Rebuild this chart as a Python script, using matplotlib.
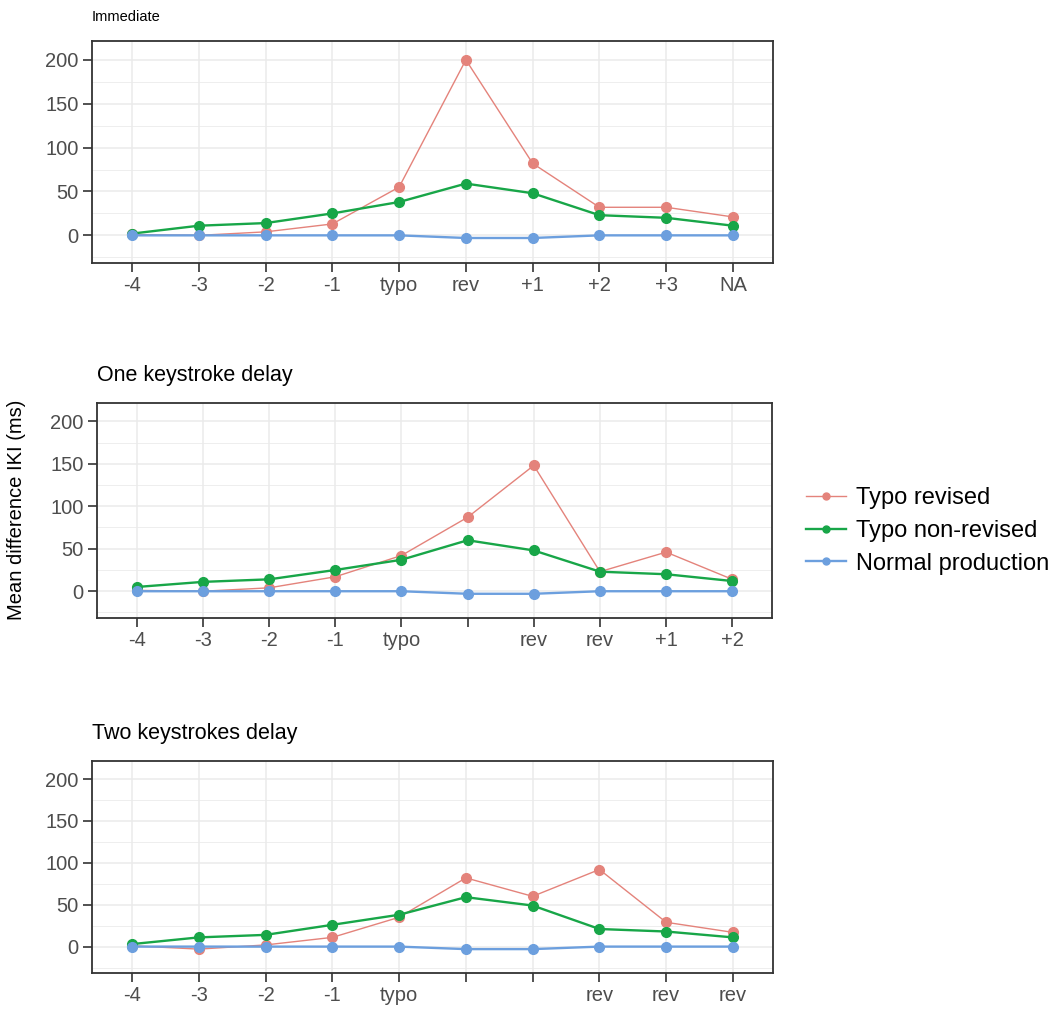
import matplotlib
matplotlib.use("Agg")
import matplotlib.pyplot as plt
from matplotlib.lines import Line2D

# category positions along the keystroke sequence
positions = list(range(1, 11))

# tick labels for each panel
labels_immediate = ["-4", "-3", "-2", "-1", "typo", "rev", "+1", "+2", "+3", "NA"]
labels_one = ["-4", "-3", "-2", "-1", "typo", "", "rev", "rev", "+1", "+2"]
labels_two = ["-4", "-3", "-2", "-1", "typo", "", "", "rev", "rev", "rev"]

# mean difference IKI (ms)
immediate_revised = [1, 0, 4, 13, 55, 200, 82, 32, 32, 21]
immediate_nonrevised = [2, 11, 14, 25, 38, 59, 48, 23, 20, 11]
immediate_normal = [0, 0, 0, 0, 0, -3, -3, 0, 0, 0]

one_revised = [1, 0, 4, 17, 42, 87, 148, 23, 46, 14]
one_nonrevised = [5, 11, 14, 25, 37, 60, 48, 23, 20, 12]
one_normal = [0, 0, 0, 0, 0, -3, -3, 0, 0, 0]

two_revised = [1, -3, 2, 11, 35, 82, 60, 92, 29, 17]
two_nonrevised = [3, 11, 14, 26, 38, 59, 49, 21, 18, 11]
two_normal = [0, 0, 0, 0, 0, -3, -3, 0, 0, 0]

series_names = ["Typo revised", "Typo non-revised", "Normal production"]

COLORS = {
    "revised": "#E4837B",
    "nonrevised": "#18A648",
    "normal": "#6C9FDE",
    "border": "#333333",
    "grid": "#EBEBEB",
    "tick_text": "#4D4D4D",
}

FONT = ["Liberation Sans", "DejaVu Sans"]

W, H = 1060, 1014
fig = plt.figure(figsize=(W / 100, H / 100), dpi=100)
fig.patch.set_facecolor("white")


def px_axes(left, top, right, bottom):
    return fig.add_axes([left / W, 1 - bottom / H, (right - left) / W, (bottom - top) / H])


def draw_panel(ax, title, labels, revised, nonrevised, normal, title_size=15.5, title_pad=16):
    ax.plot(positions, revised, color=COLORS["revised"], lw=1.0, marker="o", ms=7, zorder=3)
    ax.plot(positions, nonrevised, color=COLORS["nonrevised"], lw=1.7, marker="o", ms=7, zorder=4)
    ax.plot(positions, normal, color=COLORS["normal"], lw=1.7, marker="o", ms=7, zorder=5)

    ax.set_xlim(0.4, 10.6)
    ax.set_ylim(-31.5, 221.5)
    ax.set_xticks(positions)
    ax.set_xticklabels(labels, family=FONT, fontsize=14.5, color=COLORS["tick_text"])
    ax.set_yticks([0, 50, 100, 150, 200])
    ax.set_yticklabels(["0", "50", "100", "150", "200"], family=FONT, fontsize=14.5,
                       color=COLORS["tick_text"])
    ax.set_yticks([-25, 25, 75, 125, 175], minor=True)

    ax.grid(True, which="major", color=COLORS["grid"], lw=1.1, zorder=0)
    ax.grid(True, which="minor", axis="y", color=COLORS["grid"], lw=0.6, zorder=0)
    ax.set_axisbelow(True)
    ax.tick_params(which="major", length=6.5, width=1.2, color=COLORS["border"], pad=3)
    ax.tick_params(which="minor", length=0)
    for sp in ax.spines.values():
        sp.set_color(COLORS["border"])
        sp.set_linewidth(1.3)
    ax.set_title(title, loc="left", family=FONT, fontsize=title_size, color="black", pad=title_pad)


ax1 = px_axes(92, 41, 773, 263)
draw_panel(ax1, "Immediate", labels_immediate, immediate_revised, immediate_nonrevised,
           immediate_normal, title_size=10.5, title_pad=14.5)

ax2 = px_axes(97, 403, 772, 618)
draw_panel(ax2, "One keystroke delay", labels_one, one_revised, one_nonrevised, one_normal)

ax3 = px_axes(92, 761, 773, 973)
draw_panel(ax3, "Two keystrokes delay", labels_two, two_revised, two_nonrevised, two_normal)

fig.text(17 / W, 1 - 510 / H, "Mean difference IKI (ms)", rotation=90, ha="center", va="center",
         family=FONT, fontsize=14.5, color="black")

handles = [
    Line2D([], [], color=COLORS["revised"], lw=1.0, marker="o", ms=5),
    Line2D([], [], color=COLORS["nonrevised"], lw=1.7, marker="o", ms=5),
    Line2D([], [], color=COLORS["normal"], lw=1.7, marker="o", ms=5),
]
fig.legend(handles, series_names, loc="center left", bbox_to_anchor=(789 / W, 1 - 531 / H),
           frameon=False, prop={"family": FONT, "size": 17}, handlelength=1.7,
           handletextpad=0.45, labelspacing=0.45, borderpad=0.2)

fig.savefig("out.png", dpi=100, facecolor="white")
